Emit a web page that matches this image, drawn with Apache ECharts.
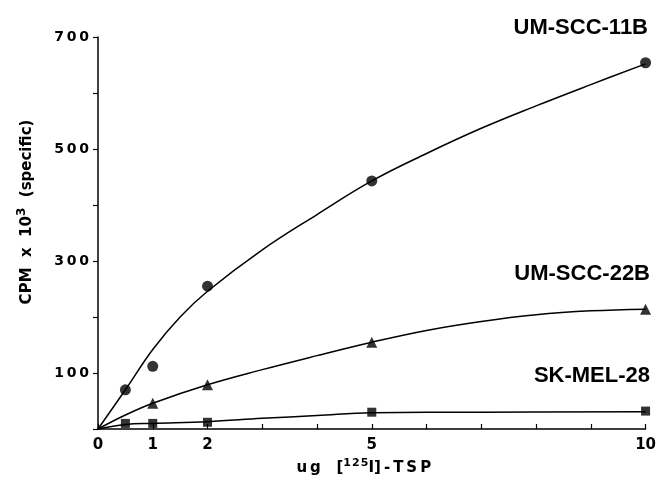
<!DOCTYPE html>
<html>
<head>
<meta charset="utf-8">
<script src="https://cdn.jsdelivr.net/npm/echarts@6/dist/echarts.min.js"></script>
<style>html,body{margin:0;padding:0;background:#fff}#c{width:659px;height:486px}</style>
</head>
<body>
<div id="c"></div>
<script>
// Measured points
var pts11B = [[0.5,70],[1,112],[2,255],[5,443],[10,654]];
var pts22B = [[1,46],[2,79],[5,155],[10,214]];
var ptsMEL = [[0.5,10],[1,10],[2,12],[5,30],[10,32]];
// Fitted curves
var curve11B = [[0,0],[0.5,70],[1,142],[1.5,200],[2,246],[3,320],[4,383],[5,443],[6,492],[7,537],[8,577],[9,615],[10,652]];
var curve22B = [[0,0],[0.5,25],[1,46],[2,79],[3,106],[4,131],[5,155],[6,176],[7,192],[8,204],[9,211],[10,214]];
var curveMEL = [[0,0],[0.5,8],[1,10],[2,13],[3,19],[4,24],[5,29],[7,30],[10,31]];
var seriesNames = ['UM-SCC-11B','UM-SCC-22B','SK-MEL-28'];
var xTickLabels = [0,1,2,5,10];
var yTickLabels = [100,300,500,700];

var F = 'Liberation Sans, Arial, sans-serif';
var chart = echarts.init(document.getElementById('c'));
function lineS(d){return {type:'line',data:d,smooth:0.4,showSymbol:false,lineStyle:{color:'#000',width:1.5},z:2,silent:true};}
function ptS(d,sym,size){return {type:'scatter',data:d,symbol:sym,symbolSize:size,itemStyle:{color:'#000'},z:3};}
chart.setOption({
  animation:false,
  grid:{left:98,right:11,top:37,bottom:57},
  title:[
    {text:seriesNames[0],right:6,top:12,textStyle:{fontFamily:F,fontWeight:'bold',fontSize:22,color:'#000'}},
    {text:seriesNames[1],right:4,top:258,textStyle:{fontFamily:F,fontWeight:'bold',fontSize:22,color:'#000'}},
    {text:seriesNames[2],right:4,top:360,textStyle:{fontFamily:F,fontWeight:'bold',fontSize:22,color:'#000'}}
  ],
  xAxis:{type:'value',min:0,max:10,interval:1,
    axisLine:{lineStyle:{color:'#000',width:1.5}},
    axisTick:{inside:true,length:5,lineStyle:{color:'#000',width:1.2}},
    splitLine:{show:false},
    axisLabel:{margin:9,color:'#000',fontFamily:'DejaVu Sans',fontWeight:'bold',fontSize:15,
      formatter:function(v){return xTickLabels.indexOf(v)>=0?String(v):'';}},
    name:'{a|u\u2009g   [}{s|1\u200a2\u200a5}{a|I]\u2009-\u2009T\u2009S\u2009P}',nameLocation:'middle',nameGap:26,
    nameTextStyle:{padding:[0,16,0,0],rich:{
      a:{fontFamily:'DejaVu Sans',fontWeight:'bold',fontSize:15,color:'#000'},
      s:{fontFamily:'DejaVu Sans',fontWeight:'bold',fontSize:11,color:'#000',padding:[0,0,9,0]}}}
  },
  yAxis:{type:'value',min:0,max:700,interval:100,
    axisLine:{show:true,lineStyle:{color:'#000',width:1.5}},
    axisTick:{show:true,inside:false,length:5,lineStyle:{color:'#000',width:1.2}},
    splitLine:{show:false},
    axisLabel:{margin:9,color:'#000',fontFamily:'DejaVu Sans',fontWeight:'bold',fontSize:14,
      formatter:function(v){return yTickLabels.indexOf(v)>=0?String(v).split('').join('\u2009'):'';}},
    name:'{a|CPM  x  10}{s|3}{a|  (specific)}',nameLocation:'middle',nameGap:60,
    nameTextStyle:{padding:[0,0,0,42],rich:{
      a:{fontFamily:'DejaVu Sans',fontWeight:'bold',fontSize:15,color:'#000'},
      s:{fontFamily:'DejaVu Sans',fontWeight:'bold',fontSize:12,color:'#000',padding:[0,0,10,0]}}}
  },
  series:[
    lineS(curve11B),lineS(curve22B),lineS(curveMEL),
    ptS(pts11B,'circle',11),ptS(pts22B,'triangle',11),ptS(ptsMEL,'rect',9)
  ]
});
</script>
</body>
</html>
